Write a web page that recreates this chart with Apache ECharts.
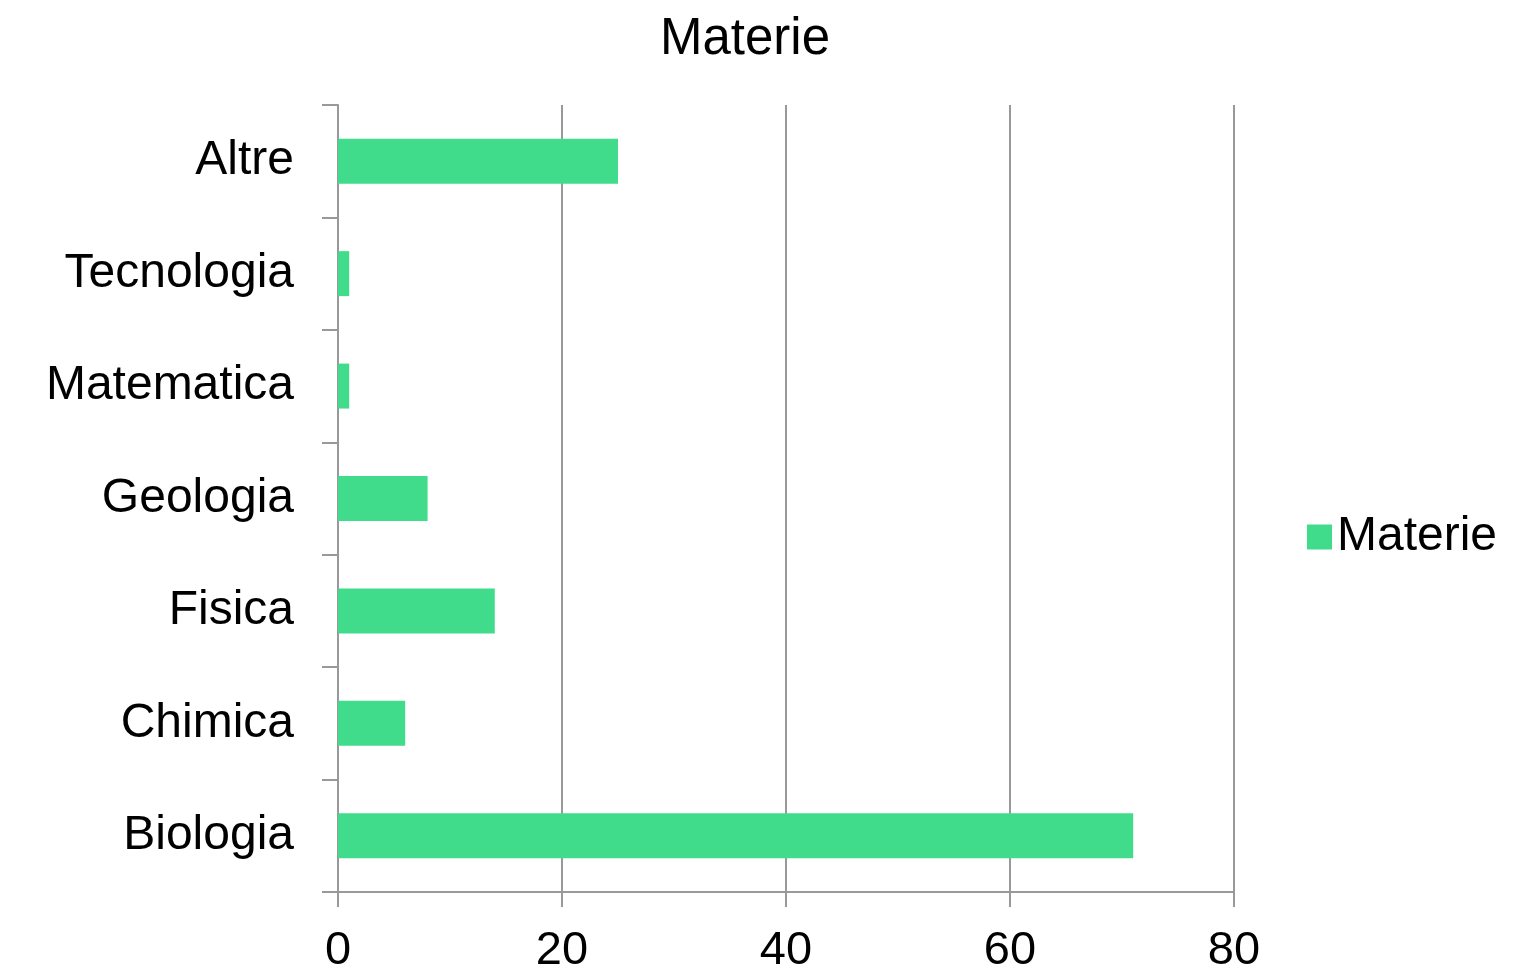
<!DOCTYPE html>
<html><head><meta charset="utf-8">
<script src="https://cdn.jsdelivr.net/npm/echarts@6/dist/echarts.min.js"></script>
<style>html,body{margin:0;padding:0;background:#fff}#c{width:1514px;height:970px}</style>
</head><body><div id="c"></div>
<script>
const categories = ["Biologia", "Chimica", "Fisica", "Geologia", "Matematica", "Tecnologia", "Altre"];
const values = [71, 6, 14, 8, 1, 1, 25];
const seriesName = "Materie";
const xTicks = [0, 20, 40, 60, 80];

const chart = echarts.init(document.getElementById('c'), null, {renderer: 'canvas'});
const font = 'Liberation Sans, Arial, sans-serif';
chart.setOption({
  animation: false,
  title: {
    text: seriesName, left: 740, top: 9, textAlign: 'center',
    textStyle: {fontFamily: font, fontSize: 51, fontWeight: 'normal', color: '#000'}
  },
  legend: {
    data: [seriesName], left: 1302, top: 508, icon: 'rect', itemWidth: 25, itemHeight: 25, itemGap: 12,
    textStyle: {fontFamily: font, fontSize: 48, color: '#000'}
  },
  grid: {left: 338, right: 280, top: 105, bottom: 78, containLabel: false, outerBoundsMode: 'none'},
  xAxis: {
    type: 'value', min: 0, max: 80, interval: 20,
    axisLine: {show: true, lineStyle: {color: '#999', width: 2}},
    axisTick: {show: true, length: 15, lineStyle: {color: '#999', width: 2}},
    splitLine: {show: true, lineStyle: {color: '#999', width: 2}},
    axisLabel: {margin: 36, fontFamily: font, fontSize: 47, color: '#000',
      formatter: v => xTicks.includes(v) ? String(v) : ''}
  },
  yAxis: {
    type: 'category', data: categories,
    axisLine: {show: true, lineStyle: {color: '#999', width: 2}},
    axisTick: {show: true, length: 16, lineStyle: {color: '#999', width: 2}},
    axisLabel: {margin: 44, fontFamily: font, fontSize: 48, color: '#000'},
    splitLine: {show: false}
  },
  series: [{
    name: seriesName, type: 'bar', data: values, barCategoryGap: '60%',
    itemStyle: {color: '#40dc8c'}
  }]
});
</script></body></html>
